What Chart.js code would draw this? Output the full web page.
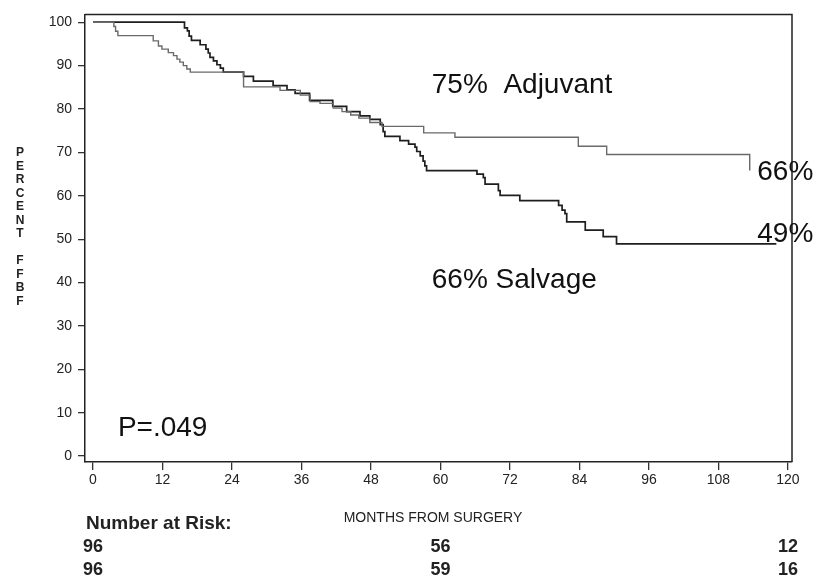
<!DOCTYPE html>
<html>
<head>
<meta charset="utf-8">
<title>Percent FFBF by months from surgery</title>
<script src="https://cdn.jsdelivr.net/npm/chart.js@4.4.1/dist/chart.umd.min.js"></script>
<style>
  html, body { margin: 0; padding: 0; background: #fff; }
  #wrap { width: 820px; height: 585px; }
</style>
</head>
<body>
<div id="wrap"><canvas id="ffbfChart" width="820" height="585"></canvas></div>
<script>
// KM curves: event month -> percent FFBF after the drop
const adjuvantMonths = [0, 3.6, 3.9, 4.3, 10.4, 11.3, 11.9, 13.0, 13.9, 14.5, 15.0, 15.6, 16.2, 16.8, 26.0,
    32.3, 35.8, 37.5, 39.2, 41.5, 43.0, 44.5, 45.9, 47.8, 49.9, 57.1, 62.5, 83.8, 88.7, 113.4];
const adjuvantPct = [100, 99.0, 97.9, 96.9, 95.7, 94.5, 93.8, 93.0, 92.3, 91.5, 90.8, 90.0, 89.2, 88.5, 85.1,
    84.3, 83.2, 81.7, 81.3, 80.2, 79.4, 78.6, 77.9, 76.9, 76.0, 74.5, 73.5, 71.4, 69.5, 65.8];

const salvageMonths = [0, 15.8, 16.3, 16.6, 17.0, 18.5, 19.5, 19.9, 20.2, 20.8, 21.4, 22.0, 22.5, 26.0, 27.7,
    31.1, 33.5, 34.9, 37.4, 41.4, 43.8, 46.1, 47.8, 49.6, 50.1, 50.4, 53.0, 54.5, 55.6, 55.9,
    56.5, 57.0, 57.3, 57.6, 66.3, 67.4, 67.7, 70.0, 70.3, 73.7, 80.4, 81.0, 81.5, 81.8, 85.0,
    88.1, 90.4, 118.0];
const salvagePct = [100, 98.7, 98.0, 96.8, 95.8, 94.8, 93.8, 92.9, 91.9, 91.1, 90.2, 89.4, 88.5, 87.5, 86.4,
    85.4, 84.4, 83.6, 82.0, 80.6, 79.4, 78.4, 77.6, 76.4, 74.8, 73.7, 72.7, 71.9, 71.2, 70.2,
    69.2, 68.0, 66.9, 65.8, 65.0, 64.2, 62.7, 61.2, 60.1, 58.9, 57.8, 56.7, 55.9, 54.0, 52.1,
    50.6, 48.9, 48.9];

const xTicks = [0, 12, 24, 36, 48, 60, 72, 84, 96, 108, 120];
const yTicks = [0, 10, 20, 30, 40, 50, 60, 70, 80, 90, 100];

// number at risk table
const riskMonths = [0, 60, 120];
const riskRow1 = [96, 56, 12];
const riskRow2 = [96, 59, 16];

const yTitleLetters = ['P', 'E', 'R', 'C', 'E', 'N', 'T', '', 'F', 'F', 'B', 'F'];

// text written inside the plot, anchored in data units
const notes = [
    { text: '75%  Adjuvant', month: 58.5, pct: 85.5 },
    { text: '66% Salvage', month: 58.5, pct: 40.5 },
    { text: '66%', month: 114.7, pct: 65.5 },
    { text: '49%', month: 114.7, pct: 51.1 },
    { text: 'P=.049', month: 4.3, pct: 6.4 }
];

const tickFont = "'Liberation Sans', Arial, sans-serif";

function toPoints(xs, ys) {
    return xs.map((m, i) => ({ x: m, y: ys[i] }));
}

const extras = {
    id: 'extras',
    afterDraw(chart) {
        const ctx = chart.ctx;
        const area = chart.chartArea;
        const xs = chart.scales.x, ys = chart.scales.y;
        ctx.save();

        // top and right frame lines
        ctx.strokeStyle = '#222';
        ctx.lineWidth = 1.5;
        ctx.beginPath();
        ctx.moveTo(area.left, area.top);
        ctx.lineTo(area.right, area.top);
        ctx.lineTo(area.right, area.bottom);
        ctx.stroke();

        // labels inside the plot
        ctx.fillStyle = '#111';
        ctx.font = "28px 'Liberation Sans', Arial, sans-serif";
        ctx.textAlign = 'left';
        ctx.textBaseline = 'middle';
        notes.forEach(n => {
            ctx.fillText(n.text, xs.getPixelForValue(n.month), ys.getPixelForValue(n.pct));
        });

        // stacked y title
        ctx.font = "bold 12px 'Liberation Sans', Arial, sans-serif";
        ctx.textAlign = 'center';
        ctx.fillStyle = '#222';
        yTitleLetters.forEach((ch, i) => {
            ctx.fillText(ch, 20, 153 + i * 13.5);
        });

        // x title
        ctx.font = "14px 'Liberation Sans', Arial, sans-serif";
        ctx.fillText('MONTHS FROM SURGERY', 433, 518);

        // number at risk
        ctx.font = "bold 19px 'Liberation Sans', Arial, sans-serif";
        ctx.textAlign = 'left';
        ctx.fillText('Number at Risk:', 86, 524);
        ctx.font = "bold 18px 'Liberation Sans', Arial, sans-serif";
        ctx.textAlign = 'center';
        riskMonths.forEach((m, i) => {
            const px = xs.getPixelForValue(m);
            ctx.fillText(String(riskRow1[i]), px, 547);
            ctx.fillText(String(riskRow2[i]), px, 570);
        });
        ctx.restore();
    }
};

const ctx = document.getElementById('ffbfChart').getContext('2d');
const ffbfChart = new Chart(ctx, {
    type: 'scatter',
    data: {
        datasets: [{
            label: 'Adjuvant',
            data: toPoints(adjuvantMonths, adjuvantPct),
            showLine: true,
            stepped: 'before',
            borderColor: '#6a6a6a',
            borderWidth: 1.4,
            pointRadius: 0,
            fill: false
        }, {
            label: 'Salvage',
            data: toPoints(salvageMonths, salvagePct),
            showLine: true,
            stepped: 'before',
            borderColor: '#1e1e1e',
            borderWidth: 1.7,
            pointRadius: 0,
            fill: false
        }]
    },
    options: {
        responsive: false,
        animation: false,
        layout: { padding: { top: 8, right: 28, bottom: 93, left: 0 } },
        plugins: {
            legend: { display: false },
            tooltip: { enabled: false }
        },
        scales: {
            x: {
                type: 'linear',
                min: -1.38,
                max: 120.7,
                afterBuildTicks: s => { s.ticks = xTicks.map(v => ({ value: v })); },
                afterFit: s => { s.height = 30; },
                grid: { drawOnChartArea: false, drawTicks: true, tickLength: 8, color: '#333', lineWidth: 1.3 },
                border: { display: true, color: '#222', width: 1.5 },
                ticks: { padding: 2, color: '#222', maxRotation: 0, font: { family: tickFont, size: 14 } }
            },
            y: {
                type: 'linear',
                min: -1.36,
                max: 101.8,
                afterBuildTicks: s => { s.ticks = yTicks.map(v => ({ value: v })); },
                afterFit: s => { s.width = 85; },
                grid: { drawOnChartArea: false, drawTicks: true, tickLength: 7, color: '#333', lineWidth: 1.3 },
                border: { display: true, color: '#222', width: 1.5 },
                ticks: { padding: 6, color: '#222', font: { family: tickFont, size: 14 } }
            }
        }
    },
    plugins: [extras]
});
</script>
</body>
</html>
